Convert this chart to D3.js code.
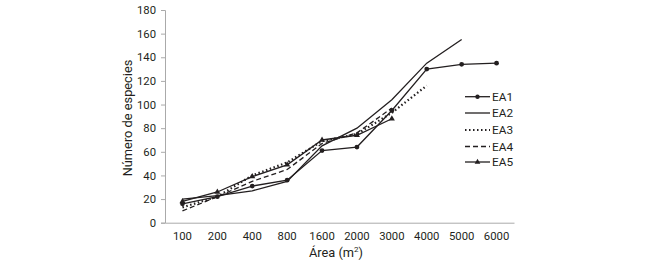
<!DOCTYPE html>
<html><head><meta charset="utf-8">
<script src="https://cdn.jsdelivr.net/npm/d3@7"></script>
<style>body{margin:0;background:#fff;}svg{display:block;font-family:Roboto,sans-serif;}</style>
</head><body><svg id="c" width="645" height="262"></svg>
<script>
const categories = ["100","200","400","800","1600","2000","3000","4000","5000","6000"];
const yTicks = [0,20,40,60,80,100,120,140,160,180];
const EA1 = [16,22,31,36,61,64,95,130,134,135];
const EA2 = [20,23,27,35,65,80,104,135,155];
const EA3 = [13,22,40,51,69,75,93,116];
const EA4 = [10,22,35,45,67,76,97];
const EA5 = [18,26,39,49,70,74,88];
const seriesNames = ["EA1","EA2","EA3","EA4","EA5"];

const series = [
  {name:"EA1", values:EA1, dash:null, width:1.3, marker:"circle"},
  {name:"EA2", values:EA2, dash:null, width:1.3, marker:null},
  {name:"EA3", values:EA3, dash:"1.5,2.5", width:2.2, marker:null},
  {name:"EA4", values:EA4, dash:"5,3", width:1.3, marker:null},
  {name:"EA5", values:EA5, dash:null, width:1.3, marker:"triangle"}
];

const svg = d3.select("#c");
const x = d3.scaleBand().domain(categories).range([165,514]);
const y = d3.scaleLinear().domain([0,180]).range([222.7,10]);
const ink = "#231f20";
const font = "Roboto, sans-serif";

const xAxis = svg.append("g").attr("transform","translate(0,222.7)")
  .call(d3.axisBottom(x).tickSize(0).tickPadding(9));
const yAxis = svg.append("g").attr("transform","translate(165,0)")
  .call(d3.axisLeft(y).tickValues(yTicks).tickSize(4).tickPadding(5));
[xAxis,yAxis].forEach(a=>{
  a.select(".domain").attr("stroke","#aaa").attr("stroke-width",1);
  a.selectAll(".tick line").attr("stroke","#aaa");
  a.selectAll("text").attr("fill",ink).style("font-size","11.3px").style("font-family",font);
});

const line = d3.line().x((d,i)=>x(categories[i])+x.bandwidth()/2).y(d=>y(d));
const g = svg.append("g");
series.forEach(s=>{
  g.append("path").datum(s.values).attr("d",line).attr("fill","none")
   .attr("stroke",ink).attr("stroke-width",s.width)
   .attr("stroke-dasharray",s.dash);
  if(s.marker==="circle"){
    g.selectAll(null).data(s.values).enter().append("circle")
     .attr("cx",(d,i)=>x(categories[i])+x.bandwidth()/2).attr("cy",d=>y(d)).attr("r",2.4).attr("fill",ink);
  } else if(s.marker==="triangle"){
    g.selectAll(null).data(s.values).enter().append("path")
     .attr("d",d3.symbol(d3.symbolTriangle,16))
     .attr("transform",(d,i)=>`translate(${x(categories[i])+x.bandwidth()/2},${y(d)})`).attr("fill",ink);
  }
});

// legend
const leg = svg.append("g");
const legY = [96.7,113,130,146.5,162];
series.forEach((s,i)=>{
  const ly = legY[i];
  leg.append("line").attr("x1",465).attr("x2",490).attr("y1",ly).attr("y2",ly)
    .attr("stroke",ink).attr("stroke-width",s.width).attr("stroke-dasharray",s.dash);
  if(s.marker==="circle") leg.append("circle").attr("cx",477.5).attr("cy",ly).attr("r",2.2).attr("fill",ink);
  if(s.marker==="triangle") leg.append("path").attr("d",d3.symbol(d3.symbolTriangle,14)).attr("transform",`translate(477.5,${ly})`).attr("fill",ink);
  leg.append("text").attr("x",492).attr("y",ly).attr("dy","0.36em").attr("fill",ink)
    .style("font-size","11.8px").style("font-family",font).text(seriesNames[i]);
});

// axis titles
const xt = svg.append("text").attr("x",336).attr("y",257).attr("text-anchor","middle").attr("fill",ink)
  .style("font-size","12.8px").style("font-family",font);
xt.append("tspan").text("Área (m");
xt.append("tspan").attr("dy","-5").style("font-size","8px").text("2");
xt.append("tspan").attr("dy","5").text(")");
svg.append("text").attr("transform","translate(128,118) rotate(-90)").attr("text-anchor","middle")
  .attr("dy","0.35em").attr("fill",ink).style("font-size","12.8px").style("font-family",font).text("Número de especies");
</script></body></html>
